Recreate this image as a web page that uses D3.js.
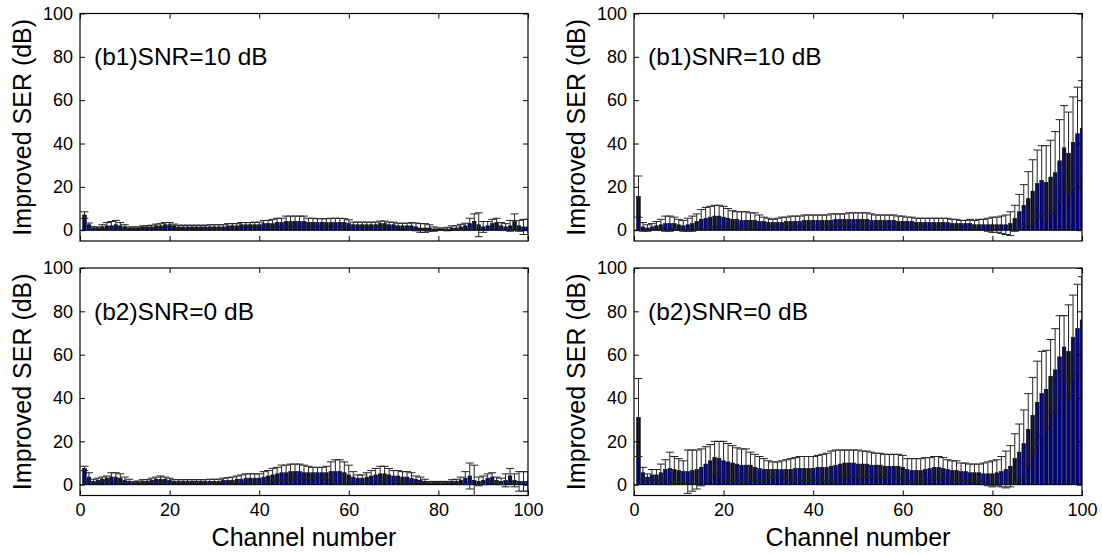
<!DOCTYPE html>
<html>
<head>
<meta charset="utf-8">
<script src="https://cdn.jsdelivr.net/npm/d3@7"></script>
<style>
  html, body { margin: 0; padding: 0; background: #fff; overflow: hidden; }
  svg { display: block; }
  svg text { font-family: "Liberation Sans", Arial, sans-serif; fill: #000; }
</style>
</head>
<body>
<svg></svg>
<script>
const w = 1102
const h = 555

// channel numbers (categories)
const channels = d3.range(1, 101)
const xTicks = [0, 20, 40, 60, 80, 100]
const yTicks = [0, 20, 40, 60, 80, 100]

// (b1) SNR=10 dB, left column
const meanA = [
  7, 2.5, 1, 1, 1.5, 2, 2, 2.5, 2, 1.5,
  1, 1, 1, 1.5, 1.5, 1.5, 2, 2, 2.5, 2.5,
  2, 1.5, 1.5, 1.5, 1.5, 1.5, 1.5, 1.5, 1.5, 1.5,
  1.5, 1.5, 2, 2, 2, 2.5, 2.5, 2.5, 2.5, 2.5,
  3, 3, 3, 3.5, 3.5, 4, 4, 4, 4, 4,
  3.5, 3.5, 3.5, 3.5, 3.5, 3.5, 3.5, 3.5, 3.5, 3,
  2.5, 2.5, 2.5, 2.5, 2.5, 2.5, 3, 3, 2.5, 2.5,
  2, 2, 2, 2, 1.5, 1, 1, 1, 0.5, 0.5,
  0.5, 0.5, 1, 1, 1.5, 2, 3, 4, 2.5, 1.5,
  2, 3, 3.5, 2, 1.5, 2, 4, 2, 1.5, 1.5]
const errA = [
  1.5, 0.8, 0.5, 0.5, 1, 1.5, 2, 2, 1.5, 1,
  0.5, 0.5, 0.5, 0.5, 0.5, 0.8, 0.8, 1, 1, 1,
  0.8, 0.8, 0.8, 0.8, 0.8, 0.8, 0.8, 0.8, 1, 1,
  1, 1, 1, 1, 1, 1, 1, 1, 1.2, 1.2,
  1.5, 1.5, 2, 2, 2, 2.5, 2.5, 2.5, 2.5, 2.5,
  2, 2, 1.8, 1.8, 1.8, 2, 2, 2, 1.8, 1.8,
  1.2, 1.2, 1.2, 1.2, 1.2, 1.2, 1.2, 1.2, 1.2, 1.2,
  1.2, 1.2, 1.2, 1.5, 1.8, 2, 2, 1.5, 1, 0.5,
  0.5, 0.8, 1, 1, 1.2, 1.2, 2.5, 3.5, 5.5, 2.5,
  2, 2, 2, 1.5, 1.5, 2.5, 3.5, 2.5, 3.5, 3.5]

// (b1) SNR=10 dB, right column
const meanB = [
  15.5, 1.5, 1, 1.5, 2, 2.5, 3, 3, 3, 2.5,
  2, 2.5, 3, 4, 5, 5.5, 6, 6.5, 6.5, 6,
  5.5, 5, 5, 4.5, 4.5, 4.5, 4.5, 4, 4, 3.5,
  3.5, 3.5, 3.5, 4, 4, 4, 4, 4.5, 4.5, 4.5,
  4.5, 4.5, 4.5, 4.5, 5, 5, 5, 5, 5, 5,
  5, 5, 4.5, 4.5, 4.5, 4.5, 4.5, 4.5, 4, 4,
  4, 4, 3.5, 3.5, 3.5, 3.5, 3.5, 3.5, 3.5, 3.5,
  3, 3, 3, 3, 3, 2.5, 2.5, 2.5, 2.5, 2.5,
  2.5, 2.5, 2.5, 3, 5.5, 8.5, 11.5, 14.5, 18, 21.5,
  23, 22, 24.5, 26.5, 32, 38, 35.5, 40.5, 44.5, 47]
const errB = [
  9.5, 2, 1.5, 1.5, 2, 2.5, 3.5, 3.5, 3, 2.5,
  2.5, 3, 3.5, 3.5, 4.5, 5, 5, 5, 5, 5,
  4.5, 4, 3.5, 4, 4, 3.5, 3.5, 3, 2, 2,
  1.5, 2, 2.5, 2, 2.5, 2.5, 2.5, 2.5, 2.5, 2.5,
  2.5, 2.5, 2.5, 3, 2.5, 2.5, 2.5, 3, 3, 3,
  3, 3, 3, 2.5, 2.5, 2.5, 2.5, 2.5, 2.5, 2.5,
  2, 2, 2, 2, 2, 2, 2, 2, 2, 2,
  2, 2, 1.5, 1.5, 2, 2, 2.5, 2.5, 3, 3.5,
  3.5, 4, 4.5, 5.5, 6, 8, 9.5, 12.5, 14.5, 15.5,
  16, 17, 17, 19, 19, 19.5, 19, 21, 21.5, 22]

// (b2) SNR=0 dB, left column
const meanC = [
  7.5, 3.5, 1.5, 2, 2.5, 3, 3.5, 3.5, 3, 2,
  1.5, 1, 1.2, 1.5, 1.5, 2, 2.5, 2.5, 2.5, 2,
  1.5, 1.5, 1.5, 1.5, 1.5, 1.5, 1.5, 1.5, 1.5, 1.5,
  1.5, 2, 2, 2, 2.5, 2.5, 3, 3, 3, 3,
  3.5, 4, 4.5, 5, 5.5, 5.5, 6, 6, 6, 5.5,
  5.5, 5.5, 5.5, 5.5, 5.5, 6, 6, 6, 5.5, 4.5,
  3.5, 3, 3, 3.5, 4, 4.5, 5, 5, 4.5, 4,
  4, 3.5, 3.5, 3, 2.5, 2, 1.5, 1, 1, 1,
  1, 1, 1.5, 1.5, 2, 3, 4, 2, 1.5, 2,
  3, 3.5, 2, 1.5, 2, 4, 2, 1.5, 1.5, 1.5]
const errC = [
  1, 2, 1, 1, 1, 1, 2, 2, 2, 1.5,
  1, 0.5, 0.5, 0.8, 0.8, 1, 1, 1.5, 1, 1,
  0.8, 0.8, 0.8, 0.8, 0.8, 0.8, 0.8, 0.8, 1, 1,
  1, 1, 1.2, 1.5, 1.5, 2, 2, 2, 2, 2,
  2.5, 2.5, 3, 3, 3.5, 3.5, 3.5, 3.5, 3.5, 3.5,
  3, 2.5, 2.5, 2.5, 3, 4.5, 5.5, 5.5, 5, 4.5,
  2.5, 1.5, 1.5, 2, 2.5, 3, 3.5, 3.5, 3, 2.5,
  2.5, 2.5, 2.5, 2.5, 1.5, 1.5, 1, 0.5, 0.5, 0.5,
  0.5, 0.5, 0.8, 1, 1.5, 3, 6, 7, 2, 2,
  2, 2, 1.5, 1.5, 3, 3.5, 3, 4.5, 4.5, 4.5]

// (b2) SNR=0 dB, right column
const meanD = [
  31, 5.5, 3.5, 4.5, 4.5, 5.5, 7, 7.5, 7, 6.5,
  6, 6, 6.5, 7, 8, 9.5, 11, 12.5, 12, 11,
  10.5, 10, 9.5, 9, 9, 9, 8, 7.5, 7, 7,
  7, 7, 7, 7, 7, 7.5, 7.5, 7.5, 7.5, 7.5,
  8, 8, 8, 8.5, 9, 9.5, 10, 10, 10, 9.5,
  9.5, 9.5, 9, 9, 9, 8.5, 8.5, 8.5, 8.5, 8,
  7, 6.5, 6.5, 6.5, 7, 7.5, 8, 8, 7.5, 7,
  6.5, 6.5, 6, 6, 5.5, 5.5, 5.5, 5, 5, 5,
  5.5, 6, 7, 8.5, 12, 15, 19, 25.5, 32, 38,
  42, 44, 50, 53, 59, 63.5, 61.5, 68, 72, 76]
const errD = [
  18, 2.5, 1.5, 2.5, 2.5, 4, 4.5, 7.5, 6, 5.5,
  5, 10, 9.5, 9, 8.5, 8, 7.5, 7.5, 8, 9,
  8.5, 8, 7.5, 7.5, 7.5, 6, 6, 5.5, 5, 4,
  3.5, 3.5, 4, 4.5, 5, 5, 5.5, 5.5, 5.5, 5.5,
  5.5, 6, 6.5, 7, 7, 6.5, 6, 6, 6, 6.5,
  6, 6, 6, 5.5, 5.5, 5.5, 5.5, 5.5, 5.5, 5.5,
  5, 5.5, 5.5, 5.5, 5.5, 5, 5, 5, 5, 4.5,
  4.5, 4.5, 4, 4, 4, 4, 4, 5, 5.5, 6,
  6, 7, 8.5, 9.5, 11.5, 13, 15.5, 16.5, 17.5, 19,
  19.5, 18, 17, 19, 19, 14.5, 21.5, 19.5, 20.5, 20]

const panels = [
  {mean: meanA, err: errA, label: '(b1)SNR=10 dB', left: 80, top: 13.5, xLabels: false},
  {mean: meanB, err: errB, label: '(b1)SNR=10 dB', left: 634, top: 13.5, xLabels: false},
  {mean: meanC, err: errC, label: '(b2)SNR=0 dB', left: 80, top: 268, xLabels: true},
  {mean: meanD, err: errD, label: '(b2)SNR=0 dB', left: 634, top: 268, xLabels: true},
]

const innerWidth = 448
const innerHeight = 227.5   // from 100 down to -5

const svg = d3.select('svg')
  .attr('width', w)
  .attr('height', h)

panels.forEach((p, i) => {
  const xScale = d3.scaleLinear().domain([0, 100]).range([0, innerWidth])
  const yScale = d3.scaleLinear().domain([-5, 100]).range([innerHeight, 0])
  const bw = xScale(0.8) - xScale(0)

  const g = svg.append('g')
    .attr('transform', `translate(${p.left}, ${p.top})`)

  g.append('clipPath').attr('id', 'clip' + i)
    .append('rect')
    .attr('width', innerWidth)
    .attr('height', innerHeight)

  const plot = g.append('g').attr('clip-path', `url(#clip${i})`)

  // bars
  plot.selectAll('rect.bar').data(channels)
    .enter().append('rect')
    .attr('class', 'bar')
    .attr('x', d => xScale(d) - bw / 2)
    .attr('width', bw)
    .attr('y', d => yScale(Math.max(p.mean[d - 1], 0)))
    .attr('height', d => Math.abs(yScale(0) - yScale(p.mean[d - 1])))
    .attr('fill', '#000088')
    .attr('stroke', '#000')
    .attr('stroke-width', 0.6)

  // bar baseline
  plot.append('line')
    .attr('x1', 0).attr('x2', innerWidth)
    .attr('y1', yScale(0)).attr('y2', yScale(0))
    .attr('stroke', '#000').attr('stroke-width', 1)

  // error bars: mean +/- err with caps
  const cap = 4
  const eb = plot.selectAll('g.eb').data(channels)
    .enter().append('g').attr('class', 'eb')
    .attr('stroke', '#222').attr('stroke-width', 1)
  eb.append('line')
    .attr('x1', d => xScale(d)).attr('x2', d => xScale(d))
    .attr('y1', d => yScale(p.mean[d - 1] - p.err[d - 1]))
    .attr('y2', d => yScale(p.mean[d - 1] + p.err[d - 1]))
  eb.append('line')
    .attr('x1', d => xScale(d) - cap).attr('x2', d => xScale(d) + cap)
    .attr('y1', d => yScale(p.mean[d - 1] + p.err[d - 1]))
    .attr('y2', d => yScale(p.mean[d - 1] + p.err[d - 1]))
  eb.append('line')
    .attr('x1', d => xScale(d) - cap).attr('x2', d => xScale(d) + cap)
    .attr('y1', d => yScale(p.mean[d - 1] - p.err[d - 1]))
    .attr('y2', d => yScale(p.mean[d - 1] - p.err[d - 1]))

  // axes, ticks pointing inward on every side
  const yAxisG = g.append('g').call(d3.axisLeft(yScale)
    .tickValues(yTicks).tickSize(-5).tickPadding(7))
  yAxisG.selectAll('text').attr('font-size', '18px')

  const rightG = g.append('g').attr('transform', `translate(${innerWidth},0)`)
    .call(d3.axisRight(yScale).tickValues(yTicks).tickSize(-5))
  rightG.selectAll('text').remove()

  const topG = g.append('g')
    .call(d3.axisTop(xScale).tickValues(xTicks).tickSize(-5))
  topG.selectAll('text').remove()

  const xAxisG = g.append('g').attr('transform', `translate(0,${innerHeight})`)
    .call(d3.axisBottom(xScale).tickValues(xTicks).tickSize(-5).tickPadding(8))
  if (p.xLabels) xAxisG.selectAll('text').attr('font-size', '18px')
  else xAxisG.selectAll('text').remove()

  g.selectAll('.domain').remove()
  g.selectAll('.tick line').attr('stroke', '#000')

  g.append('rect')
    .attr('width', innerWidth).attr('height', innerHeight)
    .attr('fill', 'none').attr('stroke', '#000').attr('stroke-width', 1.2)

  // y label
  g.append('text')
    .attr('transform', `translate(-58, ${innerHeight / 2}) rotate(-90)`)
    .attr('text-anchor', 'middle')
    .attr('dominant-baseline', 'central')
    .attr('font-size', '25px')
    .text('Improved SER (dB)')

  if (p.xLabels) {
    g.append('text')
      .attr('x', innerWidth / 2)
      .attr('y', innerHeight + 50)
      .attr('text-anchor', 'middle')
      .attr('font-size', '25px')
      .text('Channel number')
  }

  // panel annotation
  g.append('text')
    .attr('x', 14)
    .attr('y', yScale(80) + 8.5)
    .attr('font-size', '24.5px')
    .text(p.label)
})
</script>
</body>
</html>
